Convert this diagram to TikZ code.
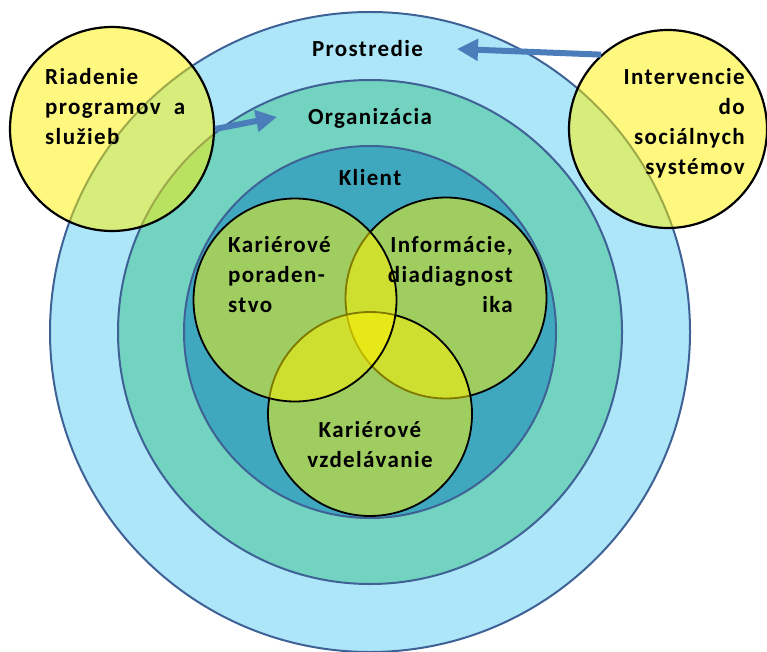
\documentclass[tikz,border=0pt]{standalone}
\usepackage{fontspec}
\newfontfamily\lblfont{Carlito}[LetterSpace=6]
\usetikzlibrary{arrows.meta}
\definecolor{outerC}{RGB}{173,230,248}
\definecolor{midC}{RGB}{114,211,192}
\definecolor{innerC}{RGB}{63,168,191}
\definecolor{ringLine}{RGB}{62,98,150}
\definecolor{arrC}{RGB}{74,125,186}
\newcommand\lnsL[1]{\vtop{\halign{##\hfil\cr#1\crcr}}}
\newcommand\lnsR[1]{\vtop{\halign{\hfil##\cr#1\crcr}}}
\newcommand\lnsC[1]{\vtop{\halign{\hfil##\hfil\cr#1\crcr}}}
\begin{document}
\begin{tikzpicture}[x=1pt,y=-1pt,
  ring/.style={circle, draw=ringLine, line width=2pt, inner sep=0pt},
  venn/.style={circle, draw=black, line width=1.8pt, fill=yellow, fill opacity=0.5, inner sep=0pt, minimum size=#1},
  lbl/.style={inner sep=0pt, font=\lblfont\bfseries\fontsize{23}{30}\selectfont, text=black},
  arr/.style={draw=arrC, line width=6pt, -{Triangle[length=21pt,width=21pt]}}]
\useasboundingbox (0,0) rectangle (767,652);
% concentric rings
\node[ring, fill=outerC, minimum size=640pt] (prost) at (370,332) {};
\node[ring, fill=midC, minimum size=504pt] (org) at (370,332) {};
\node[ring, fill=innerC, minimum size=372pt] (klient) at (370,332) {};
% outer yellow circles
\node[venn=204pt, line width=2.2pt] (riad) at (112,129) {};
\node[venn=198pt, line width=2.2pt] (interv) at (668,129) {};
% venn circles
\node[venn=201pt] (info) at (446,298) {};
\node[venn=204pt] (vzdel) at (370,414) {};
\node[venn=203pt] (porad) at (295,300) {};
% arrows
\coordinate (a1) at (277,117);
\coordinate (a2) at (457,49);
\draw[arr] (riad.east) -- (a1);
\draw[arr] (interv.132) -- (a2);
% labels
\node[lbl, anchor=base] (tprost) at (367.5,57) {Prostredie};
\node[lbl, anchor=base] (torg) at (370,125) {Organizácia};
\node[lbl, anchor=base] (tkl) at (370,186) {Klient};
\node[lbl, anchor=base west] (triad) at (45,85) {\lnsL{Riadenie\cr programov\ \ a\cr služieb}};
\node[lbl, anchor=base east] (tint) at (745,85) {\lnsR{Intervencie\cr do\cr sociálnych\cr systémov}};
\node[lbl, anchor=base west] (tpor) at (228,252) {\lnsL{Kariérové\cr poraden-\cr stvo}};
\node[lbl, anchor=base east] (tinf) at (513,252) {\lnsR{Informácie,\cr diadiagnost\cr ika}};
\node[lbl, anchor=base] (tvzd) at (370,437) {\lnsC{Kariérové\cr vzdelávanie}};
\end{tikzpicture}
\end{document}
